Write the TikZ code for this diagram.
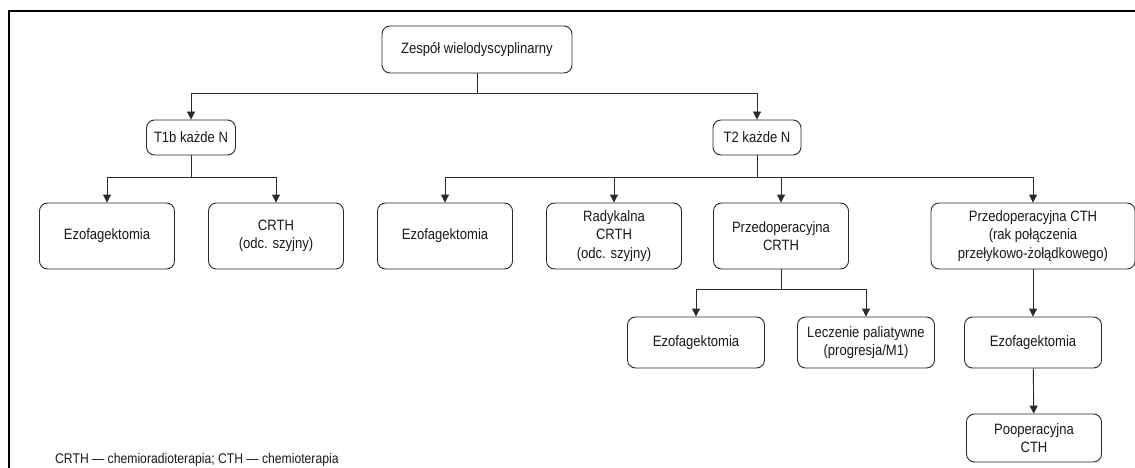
\documentclass[tikz,border=0pt]{standalone}
\usepackage{fontspec}
\setmainfont{Liberation Sans}[FakeStretch=0.87]
\usepackage{tikz}
\usetikzlibrary{arrows.meta, positioning}
\definecolor{linecol}{HTML}{2A2A2A}

\begin{document}
\begin{tikzpicture}[
  x=1pt, y=-1pt,
  box/.style={rectangle, draw=linecol, line width=0.9pt, fill=white, text=black!90, align=center, minimum width=135, rounded corners=8pt, inner sep=2pt, font=\fontsize{15pt}{18.5pt}\selectfont},
  arrow/.style={-{Triangle[width=8pt,length=8pt]}, line width=0.9pt, color=linecol},
  note/.style={anchor=west, inner sep=0pt, text=black!90, font=\fontsize{14pt}{16pt}\selectfont}
]
  \useasboundingbox (0,0) rectangle (1135,468);
  \clip (0,0) rectangle (1135,468);
  \draw[line width=1.6pt, black] (9,11) rectangle (1150,490);

  \node[box, minimum width=190, minimum height=47] (zespol) at (477,49.5) {Zespół wielodyscyplinarny};
  \node[box, minimum width=89, minimum height=35] (t1b) at (191,137.5) {T1b każde N};
  \node[box, minimum width=88, minimum height=35] (t2) at (757,137.5) {T2 każde N};

  \node[box, minimum height=66] (ezof1) at (107,236) {Ezofagektomia};
  \node[box, minimum height=66] (crth1) at (276,236) {CRTH\\(odc. szyjny)};
  \node[box, minimum height=66] (ezof2) at (445,236) {Ezofagektomia};
  \node[box, minimum height=66] (radcrth) at (614,236) {Radykalna\\CRTH\\(odc. szyjny)};
  \node[box, minimum height=66] (przcrth) at (781,236) {Przedoperacyjna\\CRTH};
  \node[box, minimum width=204, minimum height=66] (przcth) at (1033,236) {Przedoperacyjna CTH\\(rak połączenia\\przełykowo-żołądkowego)};

  \node[box, minimum width=137, minimum height=51] (ezof3) at (696,342.5) {Ezofagektomia};
  \node[box, minimum width=137, minimum height=51] (palliat) at (866,342.5) {Leczenie paliatywne\\(progresja/M1)};
  \node[box, minimum width=137, minimum height=51] (ezof4) at (1033,342.5) {Ezofagektomia};
  \node[box, minimum width=135, minimum height=48] (pooper) at (1034,438) {Pooperacyjna\\CTH};

  \node[note] (legenda) at (55,460) {CRTH — chemioradioterapia; CTH — chemioterapia};

  \draw[arrow] (zespol.south) -- ++(0,20) -| (t1b.north);
  \draw[arrow] (zespol.south) -- ++(0,20) -| (t2.north);
  \draw[arrow] (t1b.south) -- ++(0,22) -| (ezof1.north);
  \draw[arrow] (t1b.south) -- ++(0,22) -| (crth1.north);
  \draw[arrow] (t2.south) -- ++(0,22) -| (ezof2.north);
  \draw[arrow] (t2.south) -- ++(0,22) -| (radcrth.north);
  \draw[arrow] (t2.south) -- ++(0,22) -| (przcrth.north);
  \draw[arrow] (t2.south) -- ++(0,22) -| (przcth.north);
  \draw[arrow] (przcrth.south) -- ++(0,20) -| (ezof3.north);
  \draw[arrow] (przcrth.south) -- ++(0,20) -| (palliat.north);
  \draw[arrow] (przcth) -- (ezof4);
  \draw[arrow] (ezof4) -- (pooper);
\end{tikzpicture}
\end{document}
